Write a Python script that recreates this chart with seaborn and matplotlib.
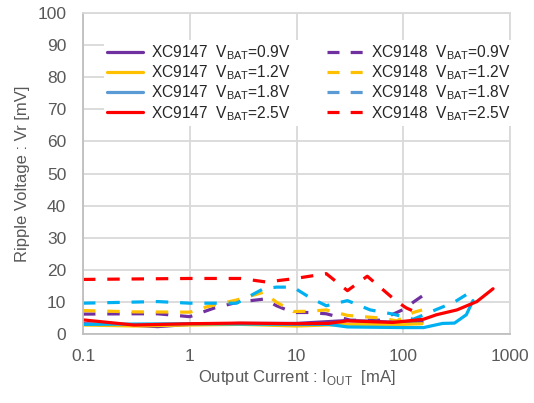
import numpy as np
import pandas as pd
import matplotlib
matplotlib.use("Agg")
import matplotlib.pyplot as plt
import seaborn as sns
from matplotlib.lines import Line2D
from matplotlib.ticker import FixedLocator, FixedFormatter, LogLocator, NullFormatter

# XC9147 (solid)
x_9147_09 = [0.1, 0.3, 0.5, 1, 3, 10, 30, 50, 100, 150]
y_9147_09 = [3.2, 2.7, 2.3, 3.0, 3.3, 3.3, 4.2, 4.0, 3.5, 3.8]
x_9147_12 = [0.1, 0.3, 1, 3, 10, 30, 100, 150]
y_9147_12 = [2.8, 2.5, 2.8, 3.0, 2.5, 3.0, 3.0, 3.2]
x_9147_18 = [0.1, 1, 10, 20, 30, 100, 155, 234, 302, 390, 450]
y_9147_18 = [3.0, 3.2, 3.0, 3.0, 2.2, 2.0, 2.0, 3.3, 3.4, 6.0, 10.4]
x_9147_25 = [0.1, 0.3, 1, 3, 10, 20, 30, 80, 155, 205, 318, 489, 694]
y_9147_25 = [4.4, 2.8, 3.2, 3.4, 3.2, 3.3, 4.1, 3.6, 4.6, 6.0, 7.5, 10.1, 14.1]

# XC9148 (dashed)
x_9148_09 = [0.1, 0.3, 0.5, 1, 1.7, 2.8, 5, 6.5, 9.3, 13, 19, 32, 60, 87, 107, 124, 150]
y_9148_09 = [6.2, 6.3, 6.3, 5.4, 8.1, 9.9, 10.9, 8.8, 6.7, 6.7, 6.3, 4.3, 4.3, 6.7, 8.1, 9.9, 11.8]
x_9148_12 = [0.1, 0.3, 1, 1.45, 2.75, 4.9, 6.5, 9.3, 13.4, 19, 30, 60, 87, 124, 150]
y_9148_12 = [7.3, 6.9, 6.8, 8.5, 10.6, 13.0, 9.9, 7.0, 7.1, 7.5, 5.8, 5.0, 4.1, 6.7, 7.5]
x_9148_18 = [0.1, 0.5, 1, 2.75, 4.9, 6.5, 9.3, 13.4, 19, 30, 49, 80, 124, 200, 300, 400]
y_9148_18 = [9.6, 10.1, 9.6, 9.6, 14.1, 14.6, 14.6, 11.3, 8.8, 10.4, 7.5, 6.2, 4.6, 7.5, 9.9, 12.5]
x_9148_25 = [0.1, 1, 3, 5.2, 9.3, 19, 30, 46, 87, 107, 144]
y_9148_25 = [17.0, 17.3, 17.3, 16.2, 17.2, 18.8, 13.5, 18.0, 10.1, 8.1, 6.2]

vbat = ["0.9", "1.2", "1.8", "2.5"]
line_colors = ["#7030A0", "#FFC000", "#00B0F0", "#FF0000"]
legend_colors = ["#7030A0", "#FFC000", "#5B9BD5", "#FF0000"]

series_9147 = [(x_9147_09, y_9147_09), (x_9147_12, y_9147_12),
               (x_9147_18, y_9147_18), (x_9147_25, y_9147_25)]
series_9148 = [(x_9148_09, y_9148_09), (x_9148_12, y_9148_12),
               (x_9148_18, y_9148_18), (x_9148_25, y_9148_25)]

sns.set_style("white")
plt.rcParams["font.family"] = ["Liberation Sans", "DejaVu Sans"]
plt.rcParams["mathtext.fontset"] = "custom"
plt.rcParams["mathtext.rm"] = "Liberation Sans"

gray = "#595959"
grid = "#D9D9D9"
lw = 2.3

fig = plt.figure(figsize=(5.34, 4.03), dpi=100)
ax = fig.add_axes([83 / 534, 1 - 334 / 403, 427 / 534, 321 / 403])

for (xs, ys), c in zip(series_9148, line_colors):
    df = pd.DataFrame({"x": xs, "y": ys})
    sns.lineplot(data=df, x="x", y="y", ax=ax, color=c, lw=lw, sort=False,
                 estimator=None, dashes=False, legend=False)
    ax.lines[-1].set_dashes((3.9, 3.7))
for (xs, ys), c in zip(series_9147, line_colors):
    df = pd.DataFrame({"x": xs, "y": ys})
    sns.lineplot(data=df, x="x", y="y", ax=ax, color=c, lw=lw, sort=False,
                 estimator=None, legend=False)

ax.set_xscale("log")
ax.set_xlim(0.1, 1000)
ax.set_ylim(0, 100)
ax.set_yticks(np.arange(0, 101, 10))
ax.xaxis.set_major_locator(FixedLocator([0.1, 1, 10, 100, 1000]))
ax.xaxis.set_major_formatter(FixedFormatter(["0.1", "1", "10", "100", "1000"]))
ax.xaxis.set_minor_locator(LogLocator(base=10, subs=np.arange(2, 10), numticks=20))
ax.xaxis.set_minor_formatter(NullFormatter())

ax.grid(True, which="major", color=grid, lw=1.3)
for s in ax.spines.values():
    s.set_color(grid)
    s.set_linewidth(1.3)
ax.spines["left"].set_color("#BFBFBF")
ax.spines["bottom"].set_color("#BFBFBF")
ax.set_axisbelow(True)

ax.tick_params(axis="y", length=0, pad=12, labelsize=12.5, labelcolor=gray)
ax.tick_params(axis="x", which="major", length=0, pad=11, labelsize=12.5, labelcolor=gray)
ax.tick_params(axis="x", which="minor", direction="in", length=4, width=1, color="#BFBFBF")

ax.set_xlabel(r"Output Current : I$_\mathregular{OUT}$  [mA]", fontsize=12, color=gray, labelpad=3)
ax.set_ylabel("Ripple Voltage : Vr [mV]", fontsize=12, color=gray, labelpad=5)

handles = []
labels = []
for v, c in zip(vbat, legend_colors):
    handles.append(Line2D([], [], color=c, lw=lw))
    labels.append(r"XC9147  V$_\mathregular{BAT}$=" + v + "V")
for v, c in zip(vbat, legend_colors):
    handles.append(Line2D([], [], color=c, lw=lw, dashes=(3.75, 3.5)))
    labels.append(r"XC9148  V$_\mathregular{BAT}$=" + v + "V")

leg = ax.legend(handles, labels, ncol=2, loc="upper left",
                bbox_to_anchor=(104 / 534, 1 - 40 / 403), bbox_transform=fig.transFigure,
                fontsize=11.2, frameon=True, facecolor="white", edgecolor="none",
                framealpha=1, handlelength=2.3, handletextpad=0.55, columnspacing=2.3,
                labelspacing=0.1, borderpad=0.2, borderaxespad=0)
for t in leg.get_texts():
    t.set_color("#262626")

fig.savefig("out.png", dpi=100)
